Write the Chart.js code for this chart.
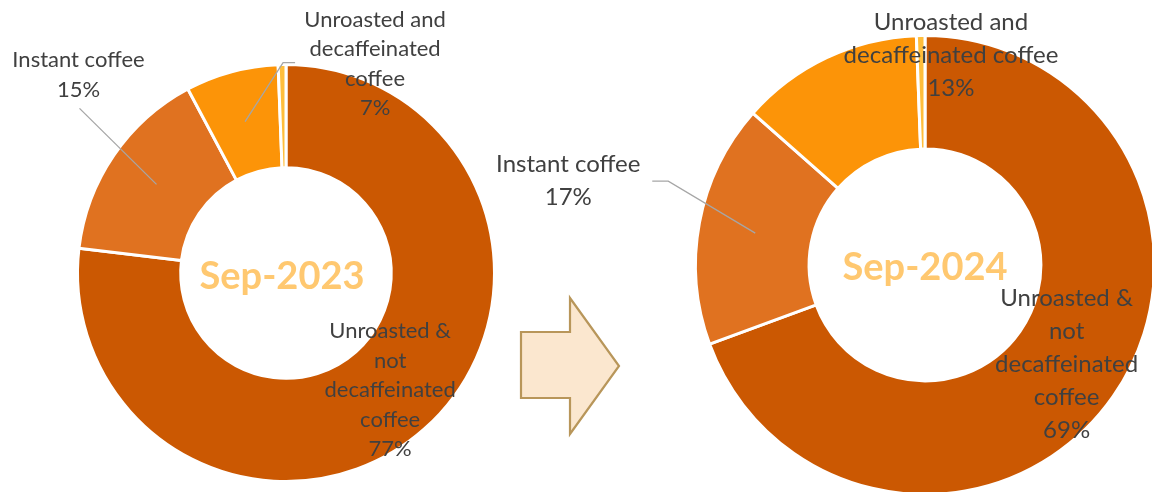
<!DOCTYPE html>
<html>
<head>
<meta charset="utf-8">
<script src="https://cdn.jsdelivr.net/npm/chart.js@4.4.1/dist/chart.umd.min.js"></script>
<style>
    html, body { margin: 0; padding: 0; background: #ffffff; }
    body { width: 1152px; height: 492px; position: relative; overflow: hidden; }
    .box { position: absolute; top: 0; height: 492px; }
    #leftBox { left: 0; width: 572px; }
    #rightBox { left: 480px; width: 672px; }
    #arrow { position: absolute; left: 0; top: 0; pointer-events: none; }
</style>
</head>
<body>
<div class="box" id="leftBox"><canvas id="chart2023"></canvas></div>
<div class="box" id="rightBox"><canvas id="chart2024"></canvas></div>
<svg id="arrow" width="1152" height="492">
    <polygon points="521,332 570,332 570,298 619,366 570,434 570,398 521,398"
             fill="#FBE7CF" stroke="#B8965A" stroke-width="2.2" stroke-linejoin="miter"/>
</svg>
<script>
// Data
const categories = ['Unroasted & not decaffeinated coffee', 'Instant coffee', 'Unroasted and decaffeinated coffee', 'Other'];
const share2023 = [76.9, 15.3, 7.2, 0.6];
const share2024 = [69.4, 17.1, 12.9, 0.6];
const periods = ['Sep-2023', 'Sep-2024'];
const sliceColors = ['#CB5802', '#E07220', '#FC9408', '#FFBE3C'];

// Label lines (the percentage is appended from the data)
const labels2023 = [['Unroasted &', 'not', 'decaffeinated', 'coffee'], ['Instant coffee'], ['Unroasted and', 'decaffeinated', 'coffee'], null];
const labels2024 = [['Unroasted &', 'not', 'decaffeinated', 'coffee'], ['Instant coffee'], ['Unroasted and', 'decaffeinated coffee'], null];

// Draws the centre title, data labels and leader lines
const sliceLabels = {
    id: 'sliceLabels',
    afterDatasetsDraw(chart, args, opts) {
        const ctx = chart.ctx;
        const meta = chart.getDatasetMeta(0);
        const values = chart.data.datasets[0].data;
        const total = values.reduce((a, b) => a + b, 0);
        const first = meta.data[0];

        ctx.save();
        ctx.textAlign = 'center';
        ctx.textBaseline = 'middle';

        // centre title
        ctx.font = 'bold ' + opts.titleSize + 'px Lato';
        ctx.fillStyle = '#FFC870';
        ctx.fillText(opts.title, first.x + opts.titleDx, first.y + opts.titleDy);

        ctx.font = opts.fontSize + 'px Lato';
        opts.items.forEach((item, i) => {
            if (!item || !opts.lines[i]) return;
            const c = meta.data[i].getCenterPoint();
            const lx = c.x + item.dx;
            const ly = c.y + item.dy;
            const lines = opts.lines[i].concat(Math.round(values[i] / total * 100) + '%');

            if (item.leader) {
                const sx = lx + item.leader[0];
                const sy = ly + item.leader[1];
                const ex = sx + (c.x > sx ? item.leader[2] : -item.leader[2]);
                ctx.strokeStyle = '#A6A6A6';
                ctx.lineWidth = 1.3;
                ctx.beginPath();
                ctx.moveTo(sx, sy);
                ctx.lineTo(ex, sy);
                ctx.lineTo(c.x, c.y);
                ctx.stroke();
            }

            ctx.fillStyle = '#404040';
            const top = ly - (lines.length - 1) * opts.lineHeight / 2;
            lines.forEach((t, k) => ctx.fillText(t, lx, top + k * opts.lineHeight));
        });
        ctx.restore();
    }
};

function initDoughnut(id, values, lines, title, padding, radius, labelOpts) {
    const ctx = document.getElementById(id);
    if (!ctx) return null;

    const config = {
        type: 'doughnut',
        data: {
            labels: categories,
            datasets: [{
                data: values,
                backgroundColor: sliceColors,
                borderColor: '#ffffff',
                borderWidth: 3
            }]
        },
        options: {
            responsive: true,
            maintainAspectRatio: false,
            animation: false,
            radius: radius,
            cutout: '50.5%',
            layout: { padding: padding },
            events: [],
            plugins: {
                legend: { display: false },
                tooltip: { enabled: false },
                sliceLabels: Object.assign({ title: title, lines: lines }, labelOpts)
            }
        },
        plugins: [sliceLabels]
    };
    return new Chart(ctx, config);
}

// 1. Sep-2023
initDoughnut('chart2023', share2023, labels2023, periods[0], { top: 54 }, 208.5, {
    fontSize: 22,
    lineHeight: 29.5,
    titleSize: 38,
    titleDx: -4,
    titleDy: 4,
    items: [
        { dx: 0, dy: 0 },
        { dx: -78, dy: -109.5, leader: [1, 33.5, 0] },
        { dx: 130, dy: -57.5, leader: [-80, -1.5, 12] },
        null
    ]
});

// 2. Sep-2024
initDoughnut('chart2024', share2024, labels2024, periods[1], { left: 218, top: 38 }, 229.5, {
    fontSize: 24,
    lineHeight: 33,
    titleSize: 38,
    titleDx: 0,
    titleDy: 3,
    items: [
        { dx: 0, dy: 0 },
        { dx: -187, dy: -52, leader: [84, 0, 16] },
        { dx: 100, dy: -54 },
        null
    ]
});
</script>
</body>
</html>
